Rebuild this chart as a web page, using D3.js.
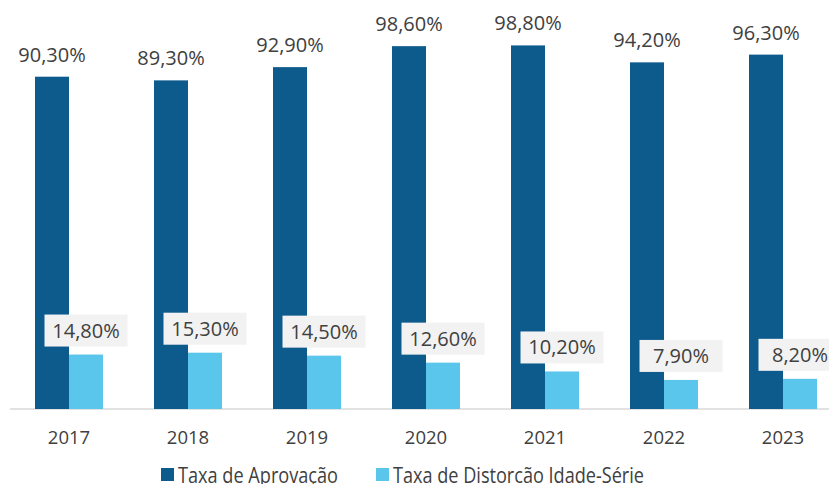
<!DOCTYPE html>
<html>
<head>
<meta charset="utf-8">
<script src="https://cdn.jsdelivr.net/npm/d3@7"></script>
<style>
  body { margin: 0; background: #fff; }
  text { font-family: "Open Sans", "Noto Sans", sans-serif; fill: #404040; }
</style>
</head>
<body>
<div class="svgContainer"></div>
<script>
/* chart data */
var years = ["2017", "2018", "2019", "2020", "2021", "2022", "2023"];
var aprovacao = [90.3, 89.3, 92.9, 98.6, 98.8, 94.2, 96.3];
var distorcao = [14.8, 15.3, 14.5, 12.6, 10.2, 7.9, 8.2];
var seriesNames = ["Taxa de Aprovação", "Taxa de Distorcão Idade-Série"];

var width = 829, height = 484;
var darkColor = "#0d5a8c", lightColor = "#5bc6eb";

var svg = d3.select(".svgContainer")
  .append("svg")
    .attr("width", width)
    .attr("height", height);

/* x: one band per year, two bars inside */
var x0 = d3.scaleBand()
    .domain(years)
    .range([9.5, 842.5])
    .paddingInner(0.4286)
    .paddingOuter(0.2143);

var x1 = d3.scaleBand()
    .domain([0, 1])
    .range([0, x0.bandwidth()]);

var y = d3.scaleLinear()
    .domain([0, 100])
    .range([409, 41]);

function fmt(v) {
  return v.toFixed(2).replace(".", ",") + "%";
}

var rows = years.map(function(d, i) {
  return { year: d, values: [aprovacao[i], distorcao[i]] };
});

/* axis line */
svg.append("line")
  .attr("x1", 10).attr("x2", width)
  .attr("y1", y(0)).attr("y2", y(0))
  .attr("stroke", "#d9d9d9")
  .attr("stroke-width", 1.5);

var groups = svg.selectAll("g.year")
  .data(rows)
  .enter()
    .append("g")
    .attr("class", "year")
    .attr("transform", function(d) { return "translate(" + x0(d.year) + ",0)"; });

groups.selectAll("rect")
  .data(function(d) { return d.values; })
  .enter()
    .append("rect")
    .attr("x", function(d, i) { return x1(i); })
    .attr("y", function(d) { return y(d); })
    .attr("width", x1.bandwidth())
    .attr("height", function(d) { return y(0) - y(d); })
    .attr("fill", function(d, i) { return i === 0 ? darkColor : lightColor; });

/* labels above dark bars */
groups.append("text")
  .attr("x", x1(0) + x1.bandwidth() / 2)
  .attr("y", function(d) { return y(d.values[0]) - 15; })
  .attr("text-anchor", "middle")
  .style("font-size", "20px")
  .text(function(d) { return fmt(d.values[0]); });

/* boxed labels above light bars */
var boxW = 83, boxH = 32;
groups.append("rect")
  .attr("x", x1(1) + x1.bandwidth() / 2 - boxW / 2)
  .attr("y", function(d) { return y(d.values[1]) - 8 - boxH; })
  .attr("width", boxW)
  .attr("height", boxH)
  .attr("fill", "#f2f2f2");

groups.append("text")
  .attr("x", x1(1) + x1.bandwidth() / 2)
  .attr("y", function(d) { return y(d.values[1]) - 17; })
  .attr("text-anchor", "middle")
  .style("font-size", "20px")
  .text(function(d) { return fmt(d.values[1]); });

/* year labels */
groups.append("text")
  .attr("x", x0.bandwidth() / 2)
  .attr("y", 444)
  .attr("text-anchor", "middle")
  .style("font-size", "18.5px")
  .text(function(d) { return d.year; });

/* legend (reference font is narrower, so squeeze to its width) */
var legendX = [161, 376];
var legendW = [160, 251];
var legend = svg.selectAll("g.legend")
  .data(seriesNames)
  .enter()
    .append("g")
    .attr("class", "legend")
    .attr("transform", function(d, i) { return "translate(" + legendX[i] + ",0)"; });

legend.append("rect")
  .attr("y", 468)
  .attr("width", 13)
  .attr("height", 13)
  .attr("fill", function(d, i) { return i === 0 ? darkColor : lightColor; });

legend.append("text")
  .attr("x", 17)
  .attr("y", 483)
  .attr("textLength", function(d, i) { return legendW[i]; })
  .attr("lengthAdjust", "spacingAndGlyphs")
  .style("font-size", "21.5px")
  .text(function(d) { return d; });
</script>
</body>
</html>
